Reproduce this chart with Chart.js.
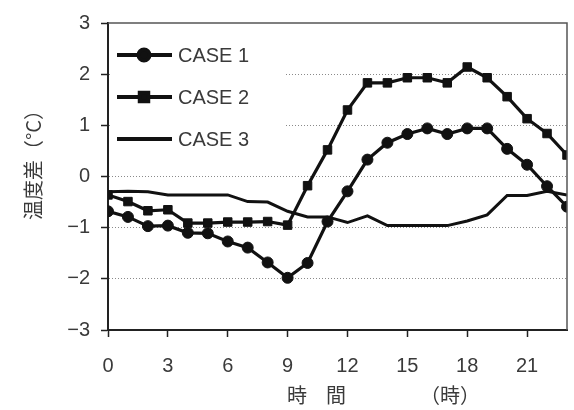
<!DOCTYPE html>
<html lang="ja">

<head>
  <meta charset="UTF-8">
  <title>温度差</title>
  <script src="https://cdn.jsdelivr.net/npm/chart.js"></script>
  <style>
    html, body {
      margin: 0;
      padding: 0;
      background: #fff;
    }
    #wrap {
      width: 574px;
      height: 410px;
    }
  </style>
</head>

<body>
  <div id="wrap">
    <canvas id="tempChart" width="574" height="410"></canvas>
  </div>

  <script>
    // hourly temperature difference (°C) for each case
    const hours = [0, 1, 2, 3, 4, 5, 6, 7, 8, 9, 10, 11, 12, 13, 14, 15, 16, 17, 18, 19, 20, 21, 22, 23];
    const case1 = [-0.68, -0.79, -0.97, -0.96, -1.10, -1.11, -1.27, -1.39, -1.68, -1.98, -1.69, -0.88,
      -0.29, 0.33, 0.66, 0.83, 0.94, 0.83, 0.94, 0.94, 0.54, 0.23, -0.19, -0.59];
    const case2 = [-0.36, -0.49, -0.67, -0.65, -0.91, -0.91, -0.89, -0.89, -0.88, -0.95, -0.18, 0.52,
      1.30, 1.83, 1.83, 1.93, 1.93, 1.83, 2.14, 1.93, 1.56, 1.13, 0.84, 0.42];
    const case3 = [-0.30, -0.29, -0.30, -0.36, -0.36, -0.36, -0.36, -0.49, -0.50, -0.68, -0.79, -0.79,
      -0.90, -0.77, -0.96, -0.96, -0.96, -0.96, -0.87, -0.75, -0.37, -0.37, -0.29, -0.36];
    const caseNames = ['CASE 1', 'CASE 2', 'CASE 3'];

    const ink = '#111';
    const textColor = '#3a3a3a';
    const numFont = { family: '"Liberation Sans", Arial, sans-serif', size: 20 };
    const jpFont = '"Noto Sans CJK JP", sans-serif';

    function toPoints(values) {
      return hours.map((h, i) => ({ x: h, y: values[i] }));
    }

    // frame, in-plot legend and axis titles
    const decorations = {
      id: 'decorations',
      beforeDatasetsDraw(chart) {
        const { ctx, chartArea } = chart;
        ctx.save();
        // legend box hides the grid behind it
        ctx.fillStyle = '#fff';
        ctx.fillRect(chartArea.left + 2, 36, 283 - chartArea.left, 124);

        const rows = [55, 97, 139];
        chart.data.datasets.forEach((ds, i) => {
          const y = rows[i];
          ctx.strokeStyle = ink;
          ctx.lineWidth = 4;
          ctx.beginPath();
          ctx.moveTo(117, y);
          ctx.lineTo(172, y);
          ctx.stroke();
          if (ds.pointRadius > 0) {
            ctx.fillStyle = ink;
            Chart.helpers.drawPoint(ctx, {
              pointStyle: ds.pointStyle,
              radius: ds.pointRadius,
              borderWidth: ds.pointBorderWidth
            }, 144, y);
          }
          ctx.fillStyle = textColor;
          ctx.font = `${numFont.size}px ${numFont.family}`;
          ctx.textAlign = 'left';
          ctx.textBaseline = 'middle';
          ctx.fillText(ds.label, 178, y + 1);
        });
        ctx.restore();
      },
      afterDraw(chart) {
        const { ctx, chartArea } = chart;
        ctx.save();
        // top and right edges of the plot box
        ctx.strokeStyle = '#555';
        ctx.lineWidth = 1.5;
        ctx.beginPath();
        ctx.moveTo(chartArea.left, chartArea.top);
        ctx.lineTo(chartArea.right, chartArea.top);
        ctx.lineTo(chartArea.right, chartArea.bottom);
        ctx.stroke();

        // x title
        ctx.fillStyle = textColor;
        ctx.font = `20px ${jpFont}`;
        ctx.textAlign = 'center';
        ctx.textBaseline = 'middle';
        ctx.fillText('時', 297, 395);
        ctx.fillText('間', 336, 395);
        ctx.fillText('（時）', 450, 395);

        // y title
        ctx.translate(33, 160);
        ctx.rotate(-Math.PI / 2);
        ctx.fillText('温度差（°C）', 0, 0);
        ctx.restore();
      }
    };

    const ctx = document.getElementById('tempChart').getContext('2d');
    new Chart(ctx, {
      type: 'line',
      data: {
        datasets: [
          {
            label: caseNames[0],
            data: toPoints(case1),
            borderColor: ink,
            backgroundColor: ink,
            borderWidth: 3.2,
            pointStyle: 'circle',
            pointRadius: 5.5,
            pointBorderWidth: 1,
            tension: 0
          },
          {
            label: caseNames[1],
            data: toPoints(case2),
            borderColor: ink,
            backgroundColor: ink,
            borderWidth: 3.2,
            pointStyle: 'rect',
            pointRadius: 6,
            pointBorderWidth: 1,
            tension: 0
          },
          {
            label: caseNames[2],
            data: toPoints(case3),
            borderColor: ink,
            backgroundColor: ink,
            borderWidth: 3,
            pointRadius: 0,
            pointBorderWidth: 0,
            tension: 0
          }
        ]
      },
      options: {
        responsive: false,
        animation: false,
        layout: { padding: { top: 19, right: 2, left: 0, bottom: 0 } },
        plugins: {
          legend: { display: false },
          tooltip: { enabled: false }
        },
        scales: {
          x: {
            type: 'linear',
            min: 0,
            max: 23,
            afterFit: (scale) => { scale.height = 80; },
            border: { color: '#222', width: 2 },
            grid: {
              drawOnChartArea: false,
              drawTicks: true,
              tickLength: 7,
              tickColor: '#222',
              tickWidth: 1.5
            },
            ticks: {
              stepSize: 3,
              includeBounds: false,
              padding: 17,
              maxRotation: 0,
              color: textColor,
              font: numFont
            }
          },
          y: {
            min: -3,
            max: 3,
            afterFit: (scale) => { scale.width = 108; },
            border: { color: '#222', width: 2, dash: [1, 2] },
            grid: {
              color: (c) => Math.abs(c.tick.value) === 3 ? 'rgba(0,0,0,0)' : '#8a8a8a',
              lineWidth: 1,
              drawTicks: true,
              tickLength: 7,
              tickColor: '#222',
              tickWidth: 1.5
            },
            ticks: {
              stepSize: 1,
              padding: 11,
              color: textColor,
              font: numFont,
              callback: (v) => v < 0 ? '−' + Math.abs(v) : String(v)
            }
          }
        }
      },
      plugins: [decorations]
    });
  </script>
</body>

</html>
